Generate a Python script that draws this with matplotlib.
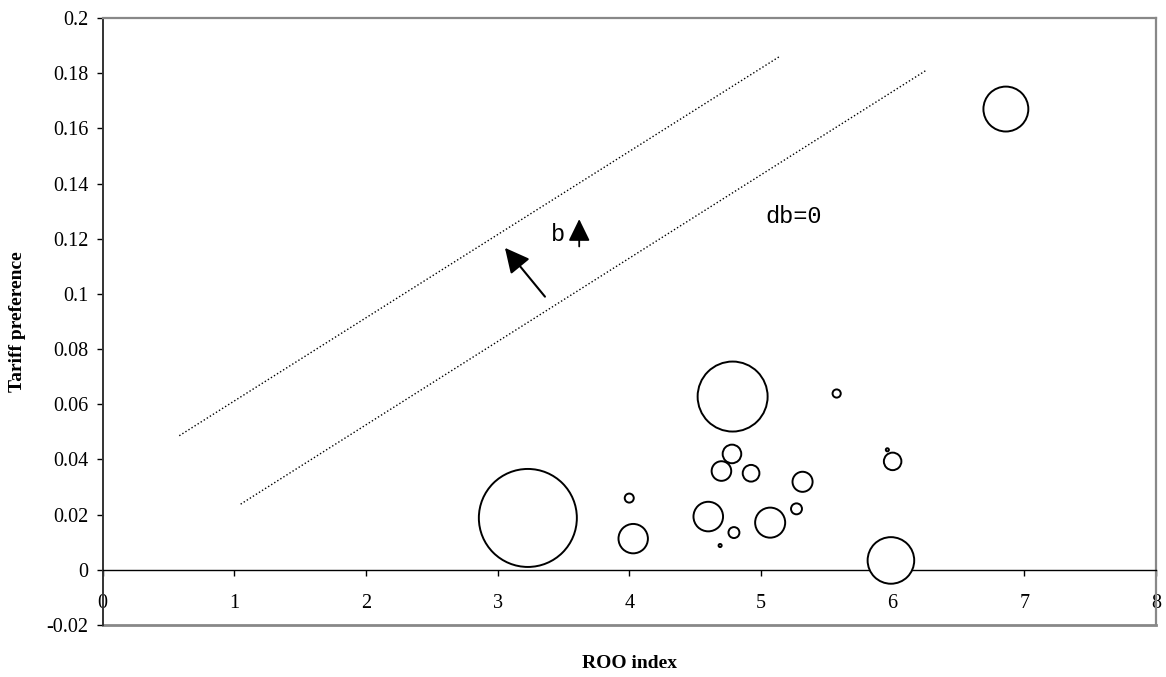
import matplotlib
matplotlib.use('Agg')
import matplotlib.pyplot as plt

# ---- data ----
roo_index = [3.23, 4.00, 4.03, 4.785, 4.78, 4.70, 4.925, 4.60, 4.795, 4.69,
             5.07, 5.316, 5.27, 5.575, 6.00, 5.96, 5.987, 6.86]
tariff_pref = [0.0188, 0.026, 0.0113, 0.0628, 0.042, 0.0358, 0.035, 0.0193, 0.0135, 0.0088,
               0.0171, 0.0319, 0.0221, 0.0639, 0.0393, 0.0435, 0.0034, 0.167]
bubble_weight = [100, 0.85, 9.0, 51, 3.6, 4.0, 2.9, 9.1, 1.25, 0.1,
                 9.4, 4.2, 1.25, 0.7, 3.2, 0.1, 22.6, 21.0]

upper_line_x = [0.583, 5.15]
upper_line_y = [0.0486, 0.1863]
lower_line_x = [1.049, 6.26]
lower_line_y = [0.0238, 0.1812]

x_ticks = [0, 1, 2, 3, 4, 5, 6, 7, 8]
y_ticks = [-0.02, 0, 0.02, 0.04, 0.06, 0.08, 0.1, 0.12, 0.14, 0.16, 0.18, 0.2]
y_tick_labels = ['-0.02', '0', '0.02', '0.04', '0.06', '0.08', '0.1', '0.12',
                 '0.14', '0.16', '0.18', '0.2']

plt.rcParams['font.family'] = ['Liberation Serif', 'DejaVu Serif']

fig = plt.figure(figsize=(11.66, 6.77), dpi=100)
ax = fig.add_axes([102.5 / 1166, 52 / 677, (1156 - 102.5) / 1166, (625 - 18) / 677])
ax.set_xlim(0, 8)
ax.set_ylim(-0.02, 0.2)

# bubbles
s_max = (2 * 49 * 0.72) ** 2
sizes = [w / 100.0 * s_max for w in bubble_weight]
ax.scatter(roo_index, tariff_pref, s=sizes, facecolors='white', edgecolors='black',
           linewidths=1.4, zorder=3, clip_on=False)

# dotted lines
ax.plot(upper_line_x, upper_line_y, color='black', lw=1.0, linestyle=(0, (1, 1.6)))
ax.plot(lower_line_x, lower_line_y, color='black', lw=1.0, linestyle=(0, (1, 1.6)))

# arrows
ax.annotate('', xy=(3.056, 0.1167), xytext=(3.36, 0.099),
            arrowprops=dict(arrowstyle='-|>,head_length=0.5,head_width=0.25',
                            mutation_scale=30, lw=1.5, color='black',
                            shrinkA=0, shrinkB=0))
ax.annotate('', xy=(3.62, 0.1271), xytext=(3.62, 0.1172),
            arrowprops=dict(arrowstyle='-|>,head_length=0.45,head_width=0.22',
                            mutation_scale=30, lw=1.3, color='black',
                            shrinkA=0, shrinkB=0))
ax.text(3.459, 0.1214, 'b', family='Liberation Mono', fontsize=17,
        ha='center', va='center')
ax.text(5.25, 0.128, 'db=0', family='Liberation Mono', fontsize=17,
        ha='center', va='center')

# spines
ax.spines['bottom'].set_position(('data', 0))
ax.spines['bottom'].set_color('black')
ax.spines['bottom'].set_linewidth(1.0)
ax.spines['left'].set_color('#333333')
ax.spines['left'].set_linewidth(1.4)
for side in ['top', 'right']:
    ax.spines[side].set_color('#888888')
    ax.spines[side].set_linewidth(1.6)
ax.plot([0, 8], [-0.02, -0.02], color='#888888', lw=2.0, clip_on=False, zorder=1)

ax.set_xticks(x_ticks)
ax.set_xticklabels([str(v) for v in x_ticks])
ax.set_yticks(y_ticks)
ax.set_yticklabels(y_tick_labels)
ax.tick_params(axis='x', direction='out', length=4.5, width=1.0, pad=13, labelsize=14.5)
ax.tick_params(axis='y', direction='out', length=4, width=1.0, pad=6, labelsize=14.5)

fig.text(18 / 1166, 1 - 322 / 677, 'Tariff preference', rotation=90, fontsize=14,
         fontweight='bold', ha='center', va='center')
fig.text(629 / 1166, 1 - 663 / 677, 'ROO index', fontsize=14,
         fontweight='bold', ha='center', va='center')

fig.savefig('out.png', dpi=100)
